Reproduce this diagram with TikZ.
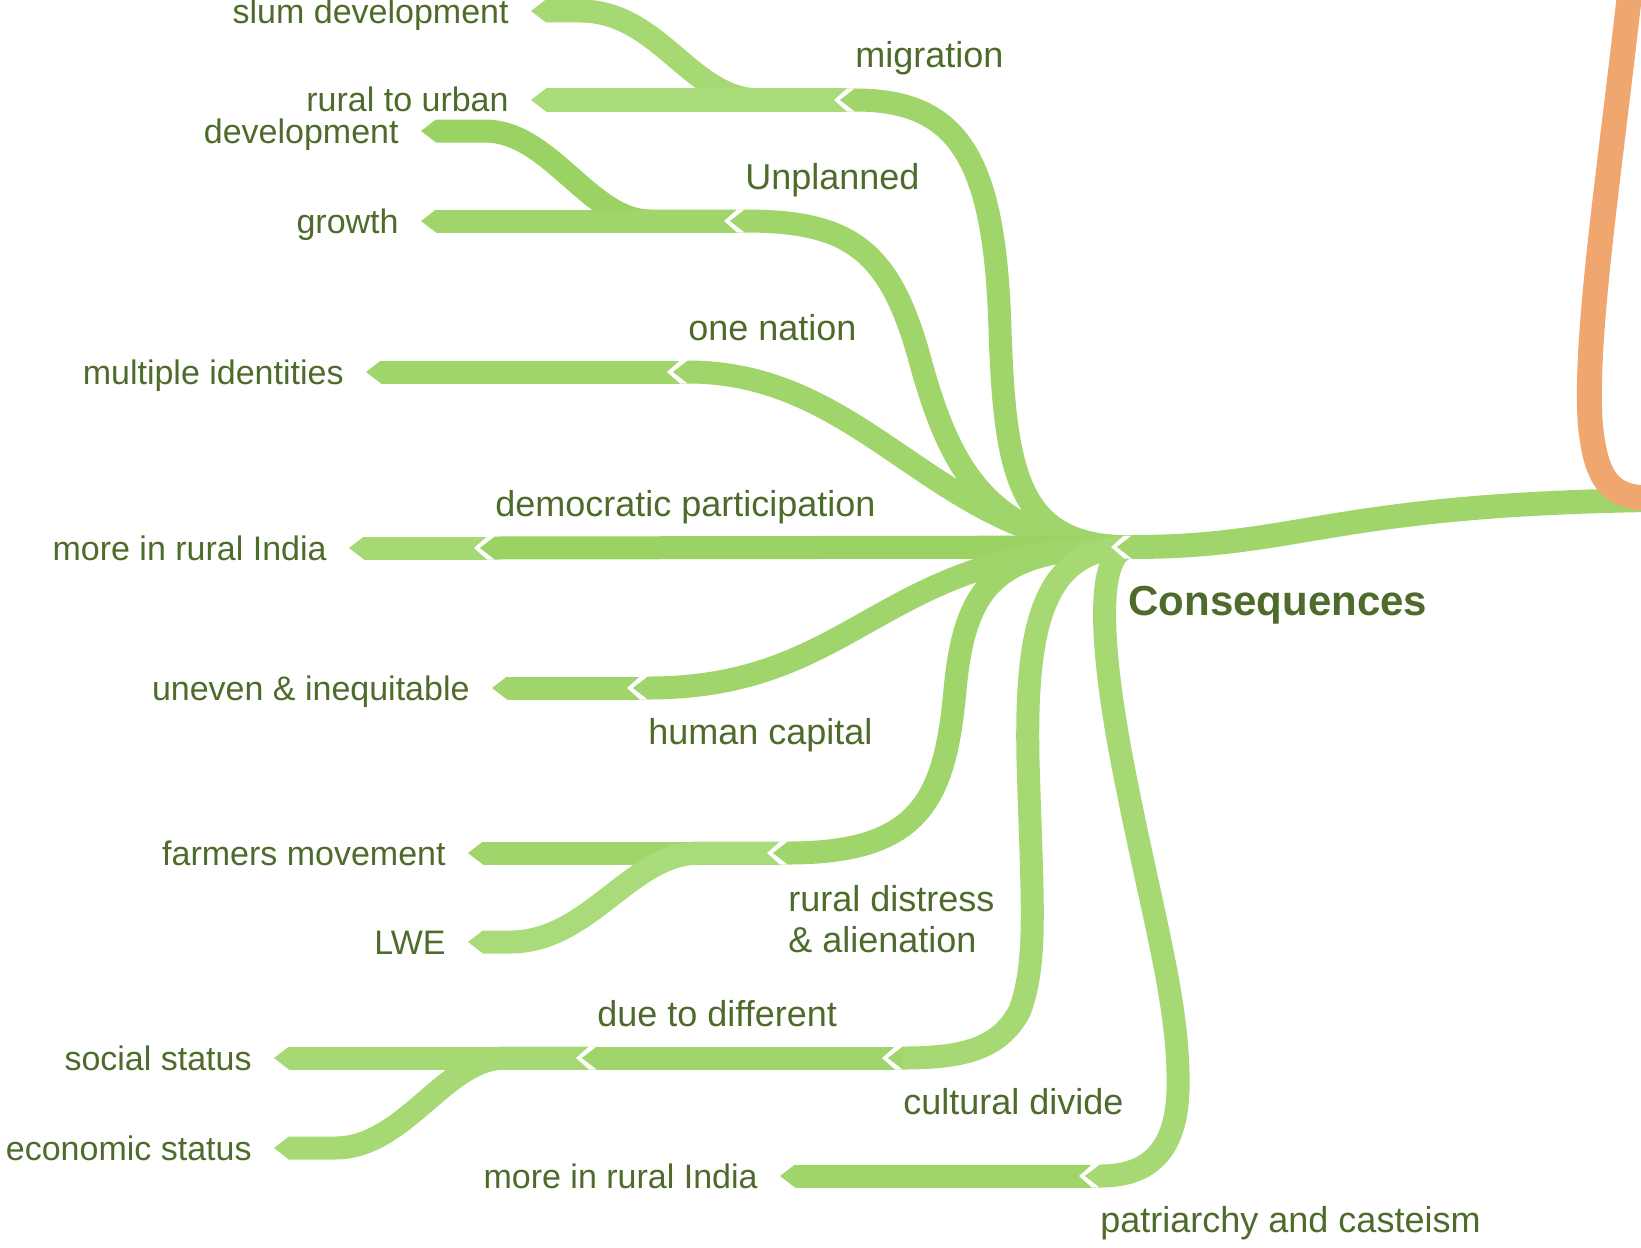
\documentclass[tikz,border=0pt]{standalone}
\usepackage{fontspec}
\setmainfont{Liberation Sans}
\usetikzlibrary{positioning}

\definecolor{txtgreen}{HTML}{4E6B2C}
\definecolor{gmain}{HTML}{A0D56C}
\definecolor{glight}{HTML}{AADB7A}
\definecolor{gdark}{HTML}{9AD263}
\definecolor{gsoft}{HTML}{A6D873}
\definecolor{orangebr}{HTML}{EFA66F}

\begin{document}
\begin{tikzpicture}[x=0.5pt, y=-0.5pt,
    branch/.style={line width=11.5pt, line cap=butt},
    leaf/.style={anchor=base east, text=txtgreen, inner sep=0pt, font=\fontsize{17}{21}\selectfont},
    topic/.style={anchor=base west, text=txtgreen, inner sep=0pt, font=\fontsize{18}{21}\selectfont},
    hubtext/.style={anchor=base west, text=txtgreen, inner sep=0pt, font=\fontsize{21}{25}\selectfont\bfseries}
]
    \useasboundingbox (0,0) rectangle (1641,1247);

    % branch ends
    \coordinate (hub) at (1132,547);
    \coordinate (root) at (1650,500);
    \coordinate (mig) at (855,100);
    \coordinate (unp) at (745,221);
    \coordinate (one) at (688,372);
    \coordinate (dem) at (495,548);
    \coordinate (hum) at (648,688);
    \coordinate (dis) at (788,853);
    \coordinate (cul) at (903,1058);
    \coordinate (pat) at (1100,1176);
    \coordinate (slum) at (546,11);
    \coordinate (r2u) at (546,100);
    \coordinate (dev) at (436,131);
    \coordinate (gro) at (436,221);
    \coordinate (mul) at (381,372);
    \coordinate (mri) at (364,548);
    \coordinate (une) at (507,688);
    \coordinate (far) at (483,853);
    \coordinate (lwe) at (483,942);
    \coordinate (due) at (597,1058);
    \coordinate (soc) at (289,1058);
    \coordinate (eco) at (289,1148);
    \coordinate (mri2) at (795,1176);
    \coordinate (otop) at (1630,-10);
    \coordinate (oend) at (1650,498);

    % leaves
    \draw[branch, gsoft] (mig) -- (760,100) .. controls (690,100) and (660,11) .. (580,11) -- (slum);
    \draw[branch, glight] (mig) -- (r2u);
    \draw[branch, gdark] (unp) -- (650,221) .. controls (590,221) and (550,131) .. (485,131) -- (dev);
    \draw[branch, gmain] (unp) -- (gro);
    \draw[branch, gmain] (one) -- (mul);
    \draw[branch, gsoft] (dem) -- (mri);
    \draw[branch, gmain] (hum) -- (une);
    \draw[branch, gmain] (dis) -- (far);
    \draw[branch, glight] (dis) -- (700,853) .. controls (630,853) and (590,942) .. (510,942) -- (lwe);
    \draw[branch, gsoft] (due) -- (soc);
    \draw[branch, gsoft] (due) -- (505,1058) .. controls (445,1058) and (405,1148) .. (335,1148) -- (eco);
    \draw[branch, gmain] (pat) -- (mri2);
    \draw[branch, gmain] (cul) -- (due);

    % main topics
    \draw[branch, gmain] (hub) .. controls (1020,547) and (1005,480) .. (1000,330) .. controls (995,160) and (960,100) .. (mig);
    \draw[branch, gmain] (hub) .. controls (990,547) and (950,470) .. (920,360) .. controls (890,250) and (850,221) .. (unp);
    \draw[branch, gmain] (hub) .. controls (940,547) and (870,372) .. (one);
    \draw[branch, gdark] (hub) -- (dem);
    \draw[branch, gmain] (hub) .. controls (880,547) and (860,688) .. (hum);
    \draw[branch, gmain] (hub) .. controls (1000,547) and (965,580) .. (955,690) .. controls (945,800) and (920,853) .. (dis);
    \draw[branch, gsoft] (hub) .. controls (1045,547) and (1025,620) .. (1028,760) .. controls (1032,900) and (1038,960) .. (1020,1010) .. controls (1000,1050) and (960,1058) .. (cul);
    \draw[branch, gsoft] (hub) .. controls (1095,547) and (1100,640) .. (1120,750) .. controls (1150,910) and (1180,1000) .. (1178,1090) .. controls (1176,1160) and (1140,1176) .. (pat);
    \draw[branch, gmain, line width=12pt] (hub) .. controls (1300,547) and (1330,505) .. (root);

    % notches and tips
    \foreach \p/\c in {hub/gmain, mig/gmain, unp/gmain, one/gmain, dem/gdark, hum/gmain, dis/gmain, cul/gmain, pat/gsoft,
        slum/gsoft, r2u/glight, dev/gdark, gro/gmain, mul/gmain, mri/gsoft, une/gmain, far/gmain, lwe/glight,
        due/gmain, soc/gsoft, eco/gsoft, mri2/gmain} {
        \fill[white] ([shift={(0,-11.5)}]\p) -- ([shift={(-15,0)}]\p) -- ([shift={(0,11.5)}]\p)
            -- ([shift={(-8,11.5)}]\p) -- ([shift={(-21,0)}]\p) -- ([shift={(-8,-11.5)}]\p) -- cycle;
        \fill[\c] ([shift={(0,-11.5)}]\p) -- ([shift={(-15,0)}]\p) -- ([shift={(0,11.5)}]\p) -- cycle;
    }

    \draw[branch, orangebr, line width=12.5pt] (otop) .. controls (1610,170) and (1585,330) .. (1590,420) .. controls (1595,480) and (1610,498) .. (oend);

    % labels
    \node[hubtext] (hubL) at ([shift={(-4,68)}]hub) {Consequences};
    \node[topic] (migL) at ([shift={(0,-32)}]mig) {migration};
    \node[topic] (unpL) at ([shift={(0,-32)}]unp) {Unplanned};
    \node[topic] (oneL) at ([shift={(0,-32)}]one) {one nation};
    \node[topic] (demL) at ([shift={(0,-32)}]dem) {democratic participation};
    \node[topic] (humL) at ([shift={(0,56)}]hum) {human capital};
    \node[topic, anchor=north west, align=left] (disL) at ([shift={(0,32)}]dis) {rural distress\\[-0.5pt]\& alienation};
    \node[topic] (culL) at ([shift={(0,56)}]cul) {cultural divide};
    \node[topic] (patL) at ([shift={(0,56)}]pat) {patriarchy and casteism};
    \node[topic] (dueL) at ([shift={(0,-32)}]due) {due to different};

    \node[leaf] (slumL) at ([shift={(-37,13)}]slum) {slum development};
    \node[leaf] (r2uL) at ([shift={(-37,12)}]r2u) {rural to urban};
    \node[leaf] (devL) at ([shift={(-37,12)}]dev) {development};
    \node[leaf] (groL) at ([shift={(-37,12)}]gro) {growth};
    \node[leaf] (mulL) at ([shift={(-37,12)}]mul) {multiple identities};
    \node[leaf] (mriL) at ([shift={(-37,12)}]mri) {more in rural India};
    \node[leaf] (uneL) at ([shift={(-37,12)}]une) {uneven \& inequitable};
    \node[leaf] (farL) at ([shift={(-37,12)}]far) {farmers movement};
    \node[leaf] (lweL) at ([shift={(-37,12)}]lwe) {LWE};
    \node[leaf] (socL) at ([shift={(-37,12)}]soc) {social status};
    \node[leaf] (ecoL) at ([shift={(-37,12)}]eco) {economic status};
    \node[leaf] (mri2L) at ([shift={(-37,12)}]mri2) {more in rural India};
\end{tikzpicture}
\end{document}
